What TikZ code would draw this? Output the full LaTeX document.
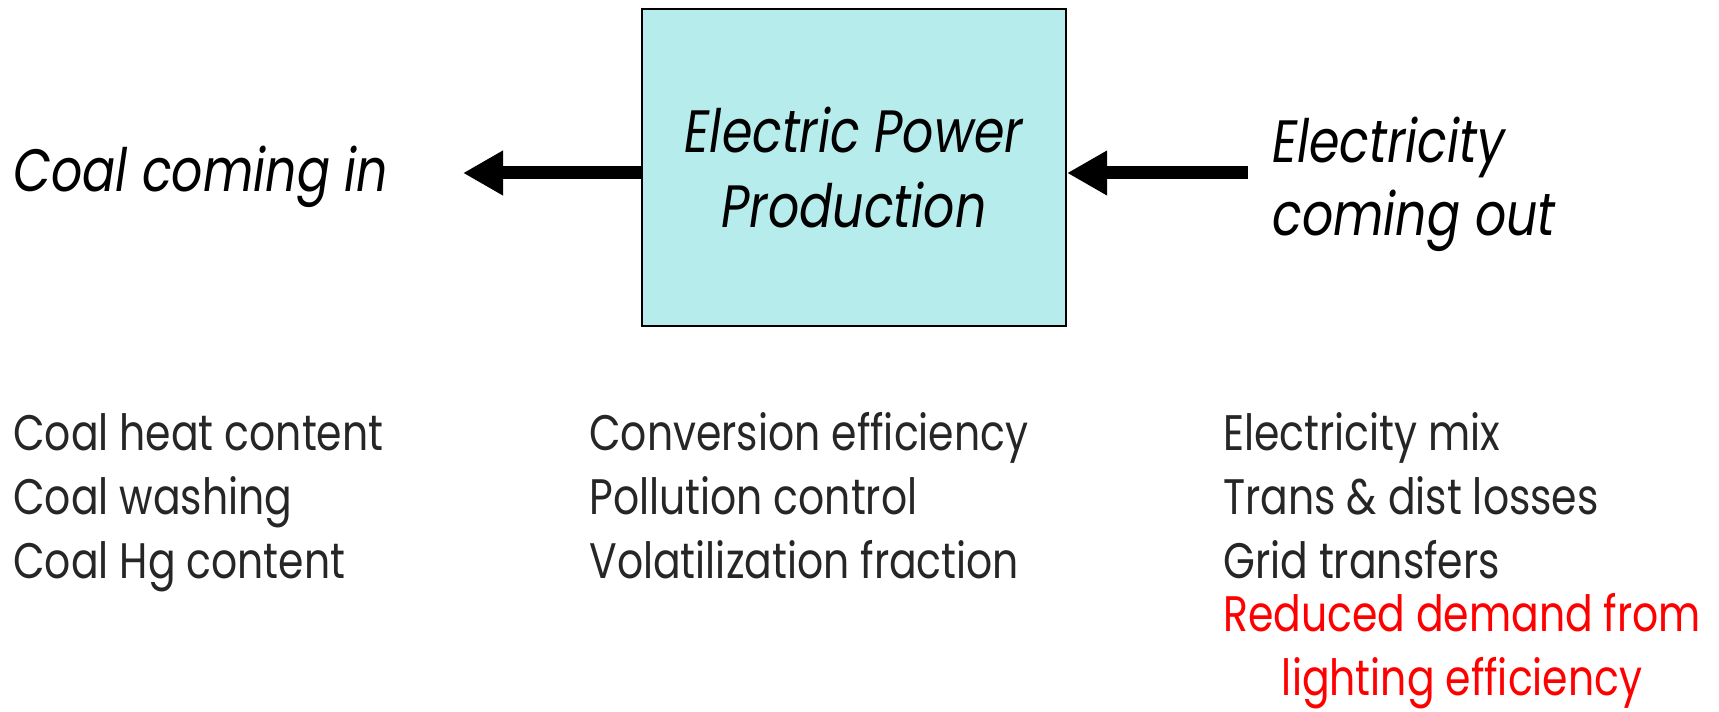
\documentclass[tikz,border=0pt]{standalone}
\usepackage{fontspec}
\setmainfont{Poppins}[FakeStretch=0.82]
\usepackage{tikz}
\usetikzlibrary{arrows.meta,positioning,calc}
\definecolor{boxcyan}{HTML}{B6ECEC}
\definecolor{listgrey}{HTML}{262626}

\tikzset{
  bigarrow/.style={line width=0.26cm, -{Triangle[length=0.8cm,width=0.84cm]}},
  biglabel/.style={font=\fontsize{34}{42}\selectfont\itshape, inner sep=0pt, align=left},
  listtext/.style={font=\fontsize{28.4}{36.3}\selectfont, text=listgrey, inner sep=0pt, align=left}
}

\begin{document}
\begin{tikzpicture}
	\useasboundingbox (0,0) rectangle (34.38,14.22);
	%\draw[style=help lines] (0,0) grid (34,14);
	\node[draw=black, line width=1.2pt, fill=boxcyan, minimum width=8.48cm, minimum height=6.34cm,
	      font=\fontsize{34}{43}\selectfont\itshape, align=center] (box) at (17.08,10.87)
	      {Electric Power\\Production};
	\coordinate (coalarrow) at (9.26,10.76);
	\coordinate (elecarrow) at (24.96,10.76);
	\draw[bigarrow] (box.west |- coalarrow) -- (coalarrow);
	\draw[bigarrow] (elecarrow) -- (box.east |- elecarrow);
	\node[biglabel, anchor=base west] (coalin) at (0.26,10.38) {Coal coming in};
	% base of a multi-line node is its last line
	\node[biglabel, anchor=base west] (elecout) at (25.44,9.5) {Electricity\\coming out};

	% parameter lists
	\node[listtext, anchor=base west] (coalparams) at (0.26,2.66)
	      {Coal heat content\\Coal washing\\Coal Hg content};
	\node[listtext, anchor=base west] (plantparams) at (11.78,2.66)
	      {Conversion efficiency\\Pollution control\\Volatilization fraction};
	\node[listtext, anchor=base west] (gridparams) at (24.46,2.66)
	      {Electricity mix\\Trans \& dist losses\\Grid transfers};
	\node[listtext, text=red, align=center, anchor=base west] (lighting) at (24.46,0.32)
	      {Reduced demand from\\lighting efficiency};
\end{tikzpicture}
\end{document}
